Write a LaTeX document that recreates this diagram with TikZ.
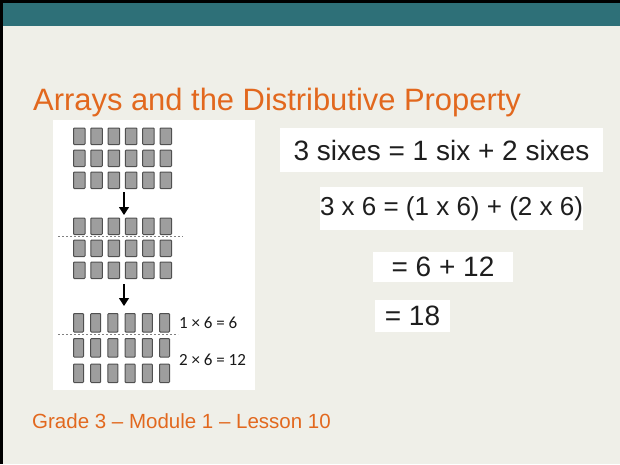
\documentclass[tikz,border=0pt]{standalone}
\usepackage{fontspec}
\setmainfont{Liberation Sans}
\newfontfamily\calib{Carlito}
\usetikzlibrary{arrows.meta}
\definecolor{slidebg}{RGB}{239,239,232}
\definecolor{slideteal}{RGB}{46,112,120}
\definecolor{orng}{RGB}{226,104,30}
\definecolor{sqfill}{RGB}{158,158,158}
\definecolor{sqdraw}{RGB}{80,80,80}
\definecolor{ink}{RGB}{30,30,30}
\begin{document}
\begin{tikzpicture}[x=1pt,y=-1pt,
  sq/.style={fill=sqfill,draw=sqdraw,line width=1pt,rounded corners=0.8pt},
  dashline/.style={draw=gray,line width=0.8pt,dash pattern=on 2pt off 2pt},
  downarrow/.style={draw=black,line width=1.2pt,-{Triangle[length=8pt,width=10pt]}},
  hw/.style={fill=white,inner sep=0pt,text=ink},
  eqlabel/.style={anchor=west,inner sep=0pt,font=\calib\fontsize{17}{20}\selectfont,text=black!90}]
\useasboundingbox (0,0) rectangle (620,464);
\fill[slidebg] (0,0) rectangle (620,464);
\fill[black] (0,0) rectangle (620,3);
\fill[black] (0,0) rectangle (3,464);
\fill[slideteal] (3,3) rectangle (620,26);
% title
\node[anchor=base west,text=orng,font=\fontsize{30.9}{36}\selectfont,inner sep=0pt] (title) at (33,110) {Arrays and the Distributive Property};
% white panel
\node[fill=white,inner sep=0pt,minimum width=202pt,minimum height=270pt,anchor=north west] (panel) at (53,120) {};
% squares, groups 1 and 2
\foreach \r in {128,150,172,218,240,262}
  \foreach \c in {0,...,5}
    \draw[sq] ({73.5+17.3*\c},\r) rectangle ++(11.5,16.5);
% squares, group 3
\foreach \r in {313.5,338.5,364}
  \foreach \c in {0,...,5}
    \draw[sq] ({73.5+17.2*\c},\r) rectangle ++(10,18.5);
% arrows
\coordinate (a1s) at (124,192);
\coordinate (a1e) at (124,215);
\coordinate (a2s) at (124,284);
\coordinate (a2e) at (124,306);
\draw[downarrow] (a1s) -- (a1e);
\draw[downarrow] (a2s) -- (a2e);
% dashed lines
\coordinate (d1s) at (58,236.5);
\coordinate (d1e) at (183,236.5);
\coordinate (d2s) at (58,334.5);
\coordinate (d2e) at (178,334.5);
\draw[dashline] (d1s) -- (d1e);
\draw[dashline] (d2s) -- (d2e);
% labels
\node[eqlabel] (l1) at (179,323) {1 × 6 = 6};
\node[eqlabel] (l2) at (179,360) {2 × 6 = 12};
% handwritten equations
\node[hw,minimum width=323pt,minimum height=44pt,font=\fontsize{28}{32}\selectfont] (e1) at (441.5,150) {3 sixes = 1 six + 2 sixes};
\node[hw,minimum width=263pt,minimum height=43pt,font=\fontsize{26}{30}\selectfont] (e2) at (451.5,208.5) {3 x 6 = (1 x 6) + (2 x 6)};
\node[hw,minimum width=140pt,minimum height=30pt,font=\fontsize{28}{32}\selectfont] (e3) at (443,267) {= 6 + 12};
\node[hw,minimum width=75pt,minimum height=32pt,font=\fontsize{28}{32}\selectfont] (e4) at (412.5,316) {= 18};
% footer
\node[anchor=base west,text=orng,font=\fontsize{20.5}{24}\selectfont,inner sep=0pt] (footer) at (32,428) {Grade 3 – Module 1 – Lesson 10};
\end{tikzpicture}
\end{document}
